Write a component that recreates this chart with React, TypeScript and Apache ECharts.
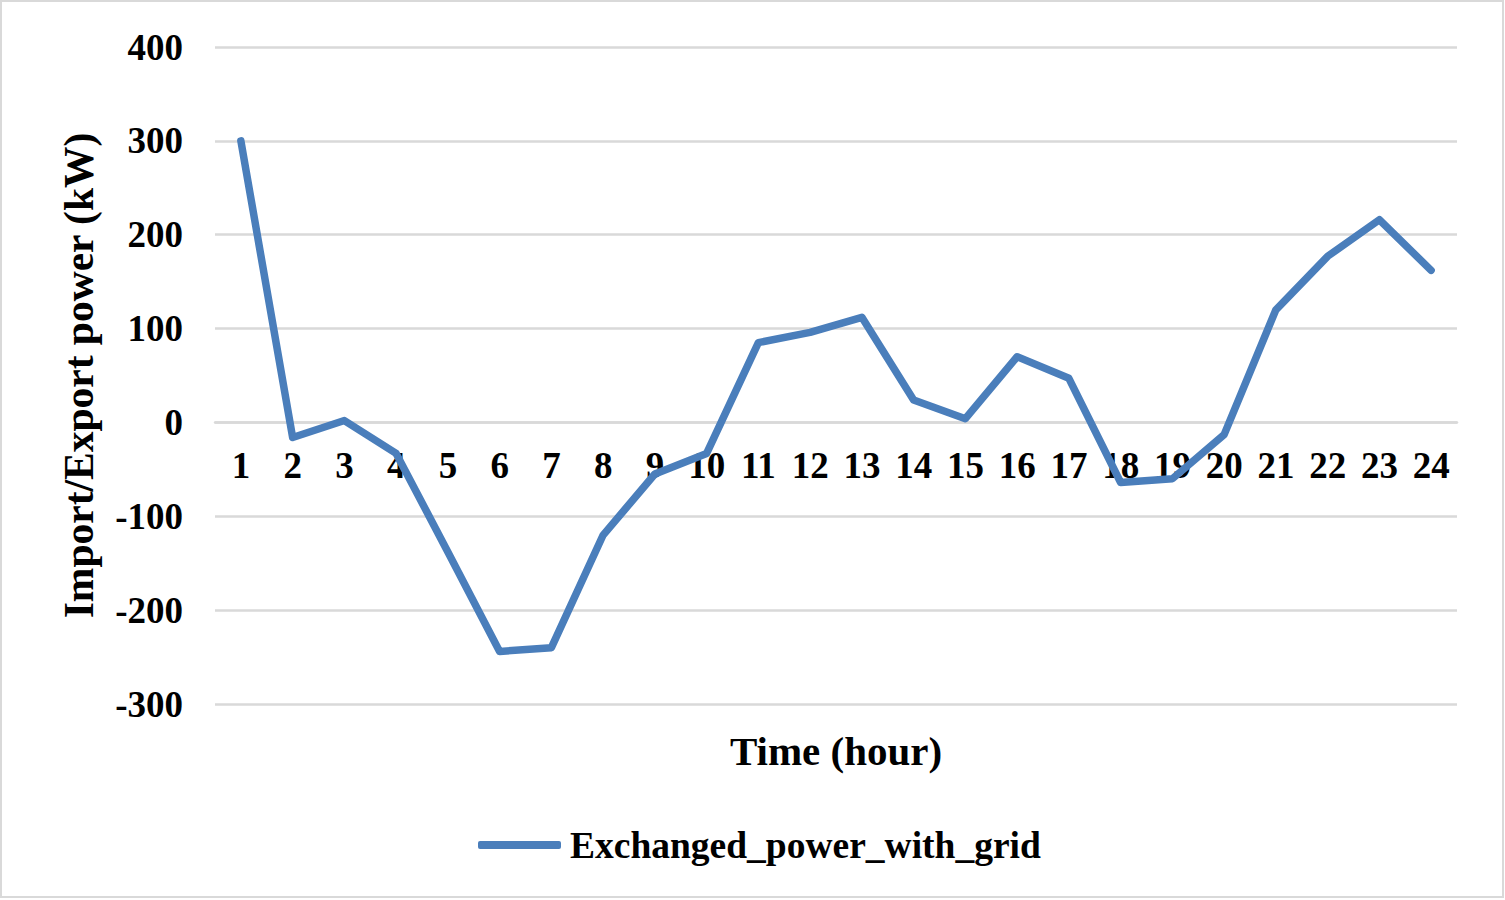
import React, { useEffect, useRef } from "react";
import * as echarts from "echarts";

const hours = ["1","2","3","4","5","6","7","8","9","10","11","12","13","14","15","16","17","18","19","20","21","22","23","24"];
const exchangedPower = [300, -16, 2, -33, -138, -244, -240, -120, -55, -33, 85, 96, 112, 24, 4, 70, 47, -64, -60, -13, 120, 177, 216, 162];
const seriesName = "Exchanged_power_with_grid";
const yTitle = "Import/Export power (kW)";
const xTitle = "Time (hour)";
const yMin = -300;
const yMax = 400;

const FONT = '"Liberation Serif", "Times New Roman", serif';

export default function App() {
  const ref = useRef<HTMLDivElement>(null);
  useEffect(() => {
    document.body.style.margin = "0";
    const chart = echarts.init(ref.current!, null, { renderer: "svg" });
    const gridTop = 47;
    const gridBottom = 196;
    const plotH = 900 - gridTop - gridBottom;
    const zeroOffset = -((0 - yMin) / (yMax - yMin)) * plotH;
    chart.setOption({
      animation: false,
      backgroundColor: "#ffffff",
      textStyle: { fontFamily: FONT },
      graphic: [
        {
          type: "rect",
          shape: { x: 1, y: 1, width: 1502, height: 896 },
          style: { fill: "none", stroke: "#d9d9d9", lineWidth: 2 },
          silent: true,
        },
      ],
      grid: { left: 215, right: 48, top: gridTop, bottom: gridBottom, containLabel: false, outerBoundsMode: "none" },
      legend: {
        data: [seriesName],
        left: 473,
        top: 821,
        icon: "roundRect",
        itemWidth: 83,
        itemHeight: 8,
        textStyle: { fontFamily: FONT, fontWeight: "bold", fontSize: 37.5, color: "#000", padding: [0, 0, 0, 4] },
      },
      xAxis: {
        type: "category",
        data: hours,
        boundaryGap: true,
        position: "bottom",
        offset: zeroOffset,
        name: xTitle,
        nameLocation: "middle",
        nameGap: 308,
        nameTextStyle: { fontFamily: FONT, fontWeight: "bold", fontSize: 41, color: "#000" },
        axisLine: { show: true, onZero: false, lineStyle: { color: "#d9d9d9", width: 2.5 } },
        axisTick: { show: false },
        axisLabel: { interval: 0, margin: 25, fontFamily: FONT, fontWeight: "bold", fontSize: 37, color: "#000" },
        splitLine: { show: false },
      },
      yAxis: {
        type: "value",
        min: yMin,
        max: yMax,
        interval: 100,
        name: yTitle,
        nameLocation: "middle",
        nameRotate: 90,
        nameGap: 115,
        nameTextStyle: { fontFamily: FONT, fontWeight: "bold", fontSize: 41.5, color: "#000" },
        axisLine: { show: false },
        axisTick: { show: false },
        axisLabel: { margin: 32, fontFamily: FONT, fontWeight: "bold", fontSize: 37, color: "#000" },
        splitLine: { show: true, lineStyle: { color: "#d9d9d9", width: 2.5 } },
      },
      series: [
        {
          name: seriesName,
          type: "line",
          data: exchangedPower,
          showSymbol: false,
          symbol: "none",
          lineStyle: { color: "#4a7ebb", width: 7.5, cap: "round", join: "round" },
          itemStyle: { color: "#4a7ebb" },
        },
      ],
    });
    return () => chart.dispose();
  }, []);
  return <div ref={ref} style={{ width: 1505, height: 900 }} />;
}
